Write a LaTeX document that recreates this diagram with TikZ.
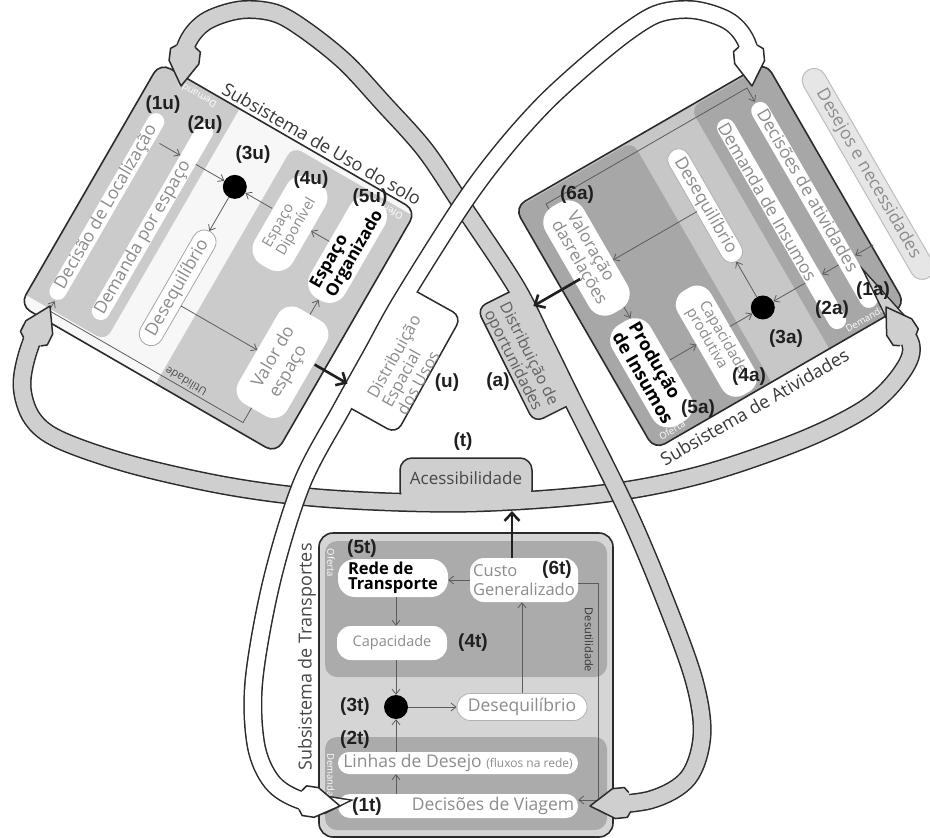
\documentclass[tikz,border=0pt]{standalone}
\usepackage{fontspec}
\setmainfont{Open Sans}
\newfontfamily\lblfont{Liberation Sans}
\usetikzlibrary{arrows.meta}
\definecolor{bandgray}{HTML}{CFCFCF}
\definecolor{lublk}{HTML}{CBCBCB}
\definecolor{luback}{HTML}{F7F7F7}
\definecolor{acback}{HTML}{C7C7C7}
\definecolor{acblk}{HTML}{A7A7A7}
\definecolor{trback}{HTML}{D5D5D5}
\definecolor{trblk}{HTML}{ABABAB}
\definecolor{txtgray}{HTML}{8C8C8C}
\definecolor{edgecol}{HTML}{2B2B2B}
\definecolor{thincol}{HTML}{5C5C5C}
\definecolor{wishfill}{HTML}{E6E6E6}
\definecolor{wishedge}{HTML}{BDBDBD}
\newcommand\fs[1]{\fontsize{#1}{#1}\selectfont}
\newcommand\fsl[2]{\fontsize{#1}{#2}\selectfont}
% band arrow head: #1 fill, #2 tip point, #3 direction angle
\newcommand\bandheadat[3]{%
  \begin{scope}[shift={#2}, rotate=#3]
    \fill[#1] (0,0) -- (-24,15) -- (-36,15) -- (-40,9.5) -- (-40,-9.5) -- (-36,-15) -- (-24,-15) -- cycle;
    \draw[edgecol, line width=1.5pt, line join=round] (-40,9.5) -- (-36,15) -- (-24,15) -- (0,0) -- (-24,-15) -- (-36,-15) -- (-40,-9.5);
  \end{scope}}
\tikzset{
  panelframe/.style={draw=edgecol, line width=1.6pt, rounded corners=12pt},
  pill/.style={fill=white, inner sep=0pt, transform shape},
  pilltext/.style={text=txtgray, inner sep=0pt, transform shape, font=\fs{17.5}},
  lbl/.style={font=\lblfont\bfseries\fs{19}, text=black!88, inner sep=0pt},
  thinarrow/.style={draw=thincol, line width=0.8pt, -{Straight Barb[length=5pt,width=8pt]}},
  bigarrow/.style={draw=black!88, line width=2.6pt, -{Straight Barb[length=8pt,width=15pt]}},
  blackdot/.style={circle, fill=black, minimum size=24pt, inner sep=0pt},
  smalltag/.style={text=white, font=\fs{9.5}, inner sep=0pt, transform shape},
  sublabel/.style={font=\fs{18}, text=black!78, inner sep=0pt, transform shape},
  bandout/.style={draw=edgecol, line width=19pt, shorten <=30pt, shorten >=30pt},
  bandin/.style={draw=#1, line width=16pt, shorten <=30pt, shorten >=30pt},
  tabshape/.style={draw=edgecol, line width=1.5pt, rounded corners=10pt},
}
\def\bandA{plot[smooth, tension=0.55] coordinates {(181,86) (186,46) (205,22) (240,10) (275,13) (305,30) (345,62) (383,103) (425,150) (462,205) (515,285) (543,340) (570,395) (627,510) (665,600) (694,680) (702,735) (688,778) (650,800) (590,806)}}
\def\bandB{plot[smooth, tension=0.55] coordinates {(752,86) (748,46) (730,22) (695,10) (660,13) (630,30) (590,62) (545,103) (503,150) (462,205) (402,300) (372,354) (342,408) (302,483) (272,580) (254,680) (256,745) (272,782) (300,800) (340,806)}}
\def\bandC{plot[smooth, tension=0.55] coordinates {(50,306) (30,346) (22,385) (32,418) (60,440) (133,465) (233,487) (333,499) (466,503) (600,494) (700,475) (800,441) (866,408) (900,375) (911,345) (886,307)}}
\begin{document}
\begin{tikzpicture}[x=1pt,y=-1pt]
\useasboundingbox (0,0) rectangle (930,838);
\fill[white] (0,0) rectangle (930,838);

% ================= Land use subsystem
\begin{scope}[shift={(218,258)}, rotate=-30]
  \fill[luback, rounded corners=12pt] (-148,-140) rectangle (148,140);
  \begin{scope}
    \clip[rounded corners=12pt] (-148,-140) rectangle (148,140);
    \fill[lublk, rounded corners=10pt] (-160,-152) rectangle (-56,128);
    \fill[lublk, rounded corners=10pt] (9,-134) rectangle (160,152);
  \end{scope}
  \draw[panelframe] (-148,-140) rectangle (148,140);
  \node[sublabel, anchor=base] (luTitle) at (33,-144) {Subsistema de Uso do solo};
  \node[smalltag, rotate=180] (luDem) at (-100,-131) {Demanda};
  \node[smalltag, rotate=180] (luOf) at (125,-127) {Oferta};
  \node[pill, rotate=90, minimum width=213pt, minimum height=17pt, rounded corners=8.5pt] (decL) at (-122,11) {};
  \node[pilltext, rotate=90] (decLt) at (-122,12) {Decisão de Localização};
  \node[pill, rotate=90, minimum width=225pt, minimum height=18pt, rounded corners=9pt] (demL) at (-75,1) {};
  \node[pilltext, rotate=90] (demLt) at (-75,20) {Demanda por espaço};
  \node[pill, draw=gray!70, line width=0.8pt, rotate=90, minimum width=130pt, minimum height=24pt, rounded corners=12pt, pilltext] (desL) at (-20,46) {Desequilíbrio};
  \node[blackdot] (dotL) at (-21,-70) {};
  \node[pill, rotate=90, minimum width=100pt, minimum height=44pt, rounded corners=18pt, text=txtgray, font=\fsl{14.5}{16}, align=left] (dispL) at (45,-66) {Espaço\\Diponível};
  \node[pill, rotate=90, minimum width=115pt, minimum height=40pt, rounded corners=18pt, font=\bfseries\fsl{17}{15}, align=left] (orgL) at (108,-72) {Espaço\\Organizado};
  \node[pill, rotate=90, minimum width=110pt, minimum height=56pt, rounded corners=16pt, text=txtgray, font=\fsl{17.5}{20}, align=left] (valL) at (108,58) {Valor do\\espaço};
  \draw[thinarrow] (-108,-70) -- (-84,-70);
  \draw[thinarrow] (-66,-70) -- (dotL);
  \draw[thinarrow] (22,-70) -- (dotL);
  \draw[thinarrow] (88,-70) -- (67,-70);
  \draw[thinarrow] (dotL) -- (-21,-19);
  \draw[thinarrow] (-8,60) -- (80,60);
  \draw[thinarrow] (108,3) -- (108,-14);
  \draw[thinarrow] (104,113) -- (104,130) -- (-120,130) -- (-120,119);
  \node[text=black!70, font=\fs{11}, inner sep=0pt, transform shape, rotate=180] (utilL) at (34,123) {Utilidade};
  \coordinate (uA) at (137,44);
  \coordinate (uB) at (175,44);
\end{scope}

% ================= Activities subsystem
\begin{scope}[shift={(710,256)}, rotate=30]
  \fill[acback, rounded corners=12pt] (-145,-140) rectangle (145,140);
  \begin{scope}
    \clip[rounded corners=12pt] (-145,-140) rectangle (145,140);
    \fill[acblk, rounded corners=10pt] (-160,-138) rectangle (-10,152);
    \fill[acblk, rounded corners=10pt] (57,-138) rectangle (160,152);
  \end{scope}
  \draw[panelframe] (-145,-140) rectangle (145,140);
  \node[sublabel, anchor=north] (acTitle) at (-37,146) {Subsistema de Atividades};
  \node[smalltag] (acDem) at (103,132) {Demanda};
  \node[smalltag] (acOf) at (-120,132) {Oferta};
  \node[pill, fill=wishfill, draw=wishedge, line width=1pt, rotate=-90, minimum width=240pt, minimum height=24pt, rounded corners=12pt, text=txtgray, font=\fs{17.5}] (wish) at (178,8) {Desejos e necessidades};
  \node[pill, rotate=-90, minimum width=235pt, minimum height=18pt, rounded corners=9pt] (decA) at (116,8) {};
  \node[pilltext, rotate=-90] (decAt) at (118,-8) {Decisões de atividades};
  \node[pill, rotate=-90, minimum width=240pt, minimum height=18pt, rounded corners=9pt] (demA) at (78,8) {};
  \node[pilltext, rotate=-90] (demAt) at (77,-18) {Demanda de Insumos};
  \node[pill, draw=gray!60, line width=0.8pt, rotate=-90, minimum width=128pt, minimum height=22pt, rounded corners=11pt, pilltext] (desA) at (21,-46) {Desequilíbrio};
  \node[blackdot] (dotA) at (20,71) {};
  \node[pill, rotate=-90, minimum width=120pt, minimum height=38pt, rounded corners=16pt, text=txtgray, font=\fsl{15}{15}, align=left] (capA) at (-37,77) {Capacidade\\produtiva};
  \node[pill, rotate=-90, minimum width=116pt, minimum height=44pt, rounded corners=18pt, font=\bfseries\fsl{18}{15}, align=left] (prodA) at (-109,72) {Produção\\de Insumos};
  \node[pill, rotate=-90, minimum width=123pt, minimum height=44pt, rounded corners=18pt, text=txtgray, font=\fsl{17}{15}, align=left] (valA) at (-108,-60) {Valoração\\dasrelações};
  \draw[thinarrow] (147,72) -- (126,72);
  \draw[thinarrow] (107,72) -- (88,72);
  \draw[thinarrow] (69,71) -- (dotA);
  \draw[thinarrow] (dotA) -- (20,18);
  \draw[thinarrow] (-18,71) -- (dotA);
  \draw[thinarrow] (-87,70) -- (-56,70);
  \draw[thinarrow] (11,-45) -- (-86,-45);
  \draw[thinarrow] (-100,1) -- (-100,14);
  \draw[thinarrow] (-116,-121) -- (-116,-127) -- (116,-127) -- (116,-111);
  \coordinate (aA) at (-124,-45);
  \coordinate (aB) at (-178,-45);
\end{scope}

% ================= Transport subsystem
\fill[trback, rounded corners=14pt] (319,533) rectangle (613,837);
\fill[trblk, rounded corners=12pt] (325,541) rectangle (607,677);
\fill[trblk, rounded corners=12pt] (325,737) rectangle (607,830);
\draw[panelframe, rounded corners=14pt] (319,533) rectangle (613,837);
\node[sublabel, rotate=90, text=black!72] (trTitle) at (307,657) {Subsistema de Transportes};
\node[smalltag, rotate=-90] (trOf) at (331,563) {Oferta};
\node[smalltag, rotate=-90] (trDem) at (331,775) {Demanda};
\node[pill, minimum width=110pt, minimum height=38pt, rounded corners=17pt, font=\bfseries\fsl{16.5}{15}, align=left] (rede) at (393,578) {Rede de\\Transporte};
\node[pill, minimum width=108pt, minimum height=44pt, rounded corners=14pt, text=txtgray, font=\fsl{16.5}{19}, align=left] (custo) at (524,580) {Custo\\Generalizado};
\node[pill, minimum width=110pt, minimum height=34pt, rounded corners=14pt, text=txtgray, font=\fs{14.5}] (capT) at (392,643) {Capacidade};
\node[blackdot] (dotT) at (396,707) {};
\node[pill, draw=gray!60, line width=0.8pt, minimum width=130pt, minimum height=27pt, rounded corners=13.5pt, pilltext] (desT) at (522,707) {Desequilíbrio};
\node[pill, minimum width=240pt, minimum height=22pt, rounded corners=11pt, pilltext] (linhas) at (458,763) {Linhas de Desejo {\fs{12}(fluxos na rede)}};
\node[pill, minimum width=240pt, minimum height=24pt, rounded corners=12pt] (decV) at (458,806) {};
\node[pilltext] (decVt) at (493,806) {Decisões de Viagem};
\node[text=black!80, font=\fs{11}, inner sep=0pt, rotate=-90] (desut) at (589,640) {Desutilidade};
\draw[thinarrow] (custo.west) -- (rede.east |- custo.west);
\draw[thinarrow] (rede.south -| dotT) -- (capT.north -| dotT);
\draw[thinarrow] (capT.south -| dotT) -- (dotT);
\draw[thinarrow] (linhas.north -| dotT) -- (dotT);
\draw[thinarrow] (decV.north -| dotT) -- (linhas.south -| dotT);
\draw[thinarrow] (dotT) -- (desT);
\draw[thinarrow] (desT.north) -- (custo.south -| desT.north);
\draw[thinarrow] (custo.east) ++(0,3) -- (598,583) -- (598,800) -- (decV.east |- 0,800);
\coordinate (tB) at (512,511);

% ================= Band C (accessibility)
\draw[bandout] \bandC;
\filldraw[fill=bandgray, tabshape, rounded corners=12pt] (400,458) rectangle (532,503);
\draw[bandin=bandgray] \bandC;
\bandheadat{bandgray}{(50,306)}{63.4}
\bandheadat{bandgray}{(886,307)}{123.3}
\node[font=\fs{17}, text=black!72, inner sep=0pt] (acc) at (466,478) {Acessibilidade};

% ================= Band A (land use <-> transport, gray)
\draw[bandout] \bandA;
\begin{scope}[shift={(543,340)}, rotate=-63.4]
  \filldraw[fill=bandgray, tabshape] (-58,-6) rectangle (70,45);
\end{scope}
\draw[bandin=bandgray] \bandA;
\bandheadat{bandgray}{(181,86)}{-97.1}
\bandheadat{bandgray}{(590,806)}{-174.3}
\begin{scope}[shift={(543,340)}, rotate=-63.4]
  \node[font=\fsl{16}{17}, text=black!62, align=left, inner sep=0pt, transform shape] (oport) at (6,28) {Distribuição de\\oportunidades};
\end{scope}

% ================= Band B (activities <-> transport, white)
\draw[bandout] \bandB;
\begin{scope}[shift={(342,408)}, rotate=60.9]
  \filldraw[fill=white, tabshape] (4,-6) rectangle (138,60);
\end{scope}
\draw[bandin=white] \bandB;
\bandheadat{white}{(752,86)}{-84.3}
\bandheadat{white}{(340,806)}{-8.5}
\begin{scope}[shift={(342,408)}, rotate=60.9]
  \node[font=\fsl{16.5}{17}, text=txtgray, align=left, inner sep=0pt, transform shape] (espac) at (70,37) {Distribuição\\Espacial\\dos Usos};
\end{scope}

% ================= thick output arrows
\draw[bigarrow] (uA) -- (uB);
\draw[bigarrow] (aA) -- (aB);
\draw[bigarrow] (tB |- custo.north) -- (tB);

% ================= labels
\node[lbl] (l1u) at (163,105) {(1u)};
\node[lbl] (l2u) at (205,125) {(2u)};
\node[lbl] (l3u) at (253,155) {(3u)};
\node[lbl] (l4u) at (311,180) {(4u)};
\node[lbl] (l5u) at (370,198) {(5u)};
\node[lbl] (l1a) at (873,291) {(1a)};
\node[lbl] (l2a) at (832,310) {(2a)};
\node[lbl] (l3a) at (786,339) {(3a)};
\node[lbl] (l4a) at (749,377) {(4a)};
\node[lbl] (l5a) at (698,409) {(5a)};
\node[lbl] (l6a) at (577,195) {(6a)};
\node[lbl] (l5t) at (362,549) {(5t)};
\node[lbl] (l6t) at (557,570) {(6t)};
\node[lbl] (l4t) at (473,643) {(4t)};
\node[lbl] (l3t) at (355,707) {(3t)};
\node[lbl] (l2t) at (355,740) {(2t)};
\node[lbl] (l1t) at (367,807) {(1t)};
\node[lbl] (lu) at (447,383) {(u)};
\node[lbl] (la) at (498,382) {(a)};
\node[lbl] (lt) at (463,442) {(t)};
\end{tikzpicture}
\end{document}
